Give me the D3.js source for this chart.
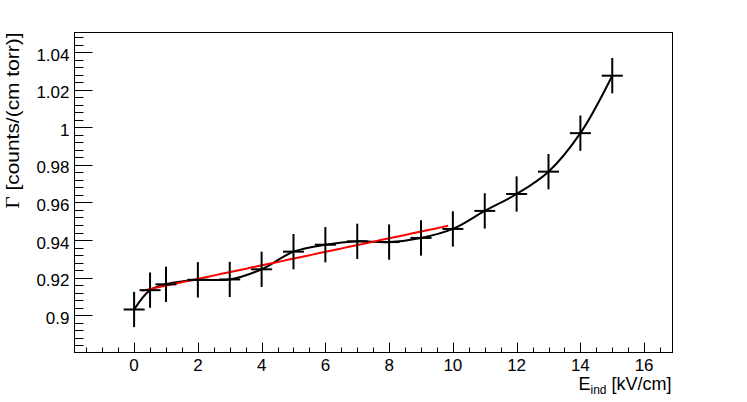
<!DOCTYPE html>
<html>
<head>
<meta charset="utf-8">
<script src="https://cdn.jsdelivr.net/npm/d3@7"></script>
<style>
  body { margin: 0; background: #fff; }
  text { font-family: "Liberation Sans", Arial, sans-serif; fill: #000; }
</style>
</head>
<body>
<svg id="chart" width="747" height="402"></svg>
<script>
// measured points (E_ind in kV/cm, gamma in counts/(cm torr))
var eInd = [0, 0.5, 1, 2, 3, 4, 5, 6, 7, 8, 9, 10, 11, 12, 13, 14, 15];
var gamma = [0.903, 0.9133, 0.9164, 0.9188, 0.919, 0.9244, 0.9338, 0.9375, 0.9393,
             0.9389, 0.9411, 0.9459, 0.9555, 0.9645, 0.9764, 0.9969, 1.0275];
var gammaErr = [0.0094, 0.0094, 0.0094, 0.0094, 0.0094, 0.0094, 0.0094, 0.0094, 0.0094,
                0.0094, 0.0094, 0.0094, 0.0094, 0.0094, 0.0094, 0.0094, 0.0094];
var eErr = [0.33, 0.33, 0.33, 0.33, 0.33, 0.33, 0.33, 0.33, 0.33,
            0.33, 0.33, 0.33, 0.33, 0.33, 0.33, 0.33, 0.33];

// linear fit (red)
var fitRange = [0.25, 9.85];
var fitPars = [0.9121, 0.0036]; // p0 + p1*x

var xTicks = [0, 2, 4, 6, 8, 10, 12, 14, 16];
var yTicks = [0.9, 0.92, 0.94, 0.96, 0.98, 1, 1.02, 1.04];

var svg = d3.select('#chart');
var L = 74.5, R = 672.5, T = 32.5, B = 352.5;

var x = d3.scaleLinear().domain([-1.87, 16.89]).range([L, R]);
var y = d3.scaleLinear().domain([0.8801, 1.0505]).range([B, T]);

// frame
svg.append('rect')
  .attr('x', L).attr('y', T)
  .attr('width', R - L).attr('height', B - T)
  .attr('fill', 'none').attr('stroke', '#000').attr('stroke-width', 1);

// x ticks
var xMinor = d3.range(-1.5, 16.9, 0.5).filter(function(v){ return Math.abs(v / 2 - Math.round(v / 2)) > 1e-6; });
var gx = svg.append('g').attr('stroke', '#000').attr('stroke-width', 1);
xMinor.forEach(function(v){
  var px = Math.round(x(v)) + 0.5;
  gx.append('line').attr('x1', px).attr('x2', px).attr('y1', B).attr('y2', B - 5);
});
xTicks.forEach(function(v){
  var px = Math.round(x(v)) + 0.5;
  gx.append('line').attr('x1', px).attr('x2', px).attr('y1', B).attr('y2', B - 10);
});
svg.append('g').selectAll('text').data(xTicks).join('text')
  .attr('x', function(d){ return x(d); })
  .attr('y', 370.5)
  .attr('text-anchor', 'middle')
  .style('font-size', '17px')
  .text(function(d){ return d; });

// y ticks
var yMinor = d3.range(0.884, 1.05, 0.004).filter(function(v){
  return Math.abs(v / 0.02 - Math.round(v / 0.02)) > 1e-4;
});
var gy = svg.append('g').attr('stroke', '#000').attr('stroke-width', 1);
yMinor.forEach(function(v){
  var py = Math.round(y(v)) + 0.5;
  gy.append('line').attr('x1', L).attr('x2', L + 9).attr('y1', py).attr('y2', py);
});
yTicks.forEach(function(v){
  var py = Math.round(y(v)) + 0.5;
  gy.append('line').attr('x1', L).attr('x2', L + 18).attr('y1', py).attr('y2', py);
});
svg.append('g').selectAll('text').data(yTicks).join('text')
  .attr('x', 69.5)
  .attr('y', function(d){ return y(d) + 8.5; })
  .attr('text-anchor', 'end')
  .style('font-size', '17px')
  .text(function(d){ return d3.format('~g')(d); });

// axis titles
var xt = svg.append('text')
  .attr('x', 671.5).attr('y', 390)
  .attr('text-anchor', 'end')
  .style('font-size', '18px');
xt.append('tspan').text('E');
xt.append('tspan').attr('dy', 4).style('font-size', '12px').text('ind');
xt.append('tspan').attr('dy', -4).text(' [kV/cm]');

var yt = svg.append('text')
  .attr('transform', 'translate(19,' + T + ') rotate(-90)')
  .attr('text-anchor', 'end')
  .attr('textLength', 176)
  .attr('lengthAdjust', 'spacingAndGlyphs')
  .style('font-size', '18px');
yt.append('tspan').style('font-family', '"Liberation Serif", serif').text('Γ');
yt.append('tspan').text(' [counts/(cm torr)]');

var pts = eInd.map(function(v, i){
  return { x: v, y: gamma[i], ey: gammaErr[i], ex: eErr[i] };
});

// smooth curve through points
var line = d3.line()
  .x(function(d){ return x(d.x); })
  .y(function(d){ return y(d.y); })
  .curve(d3.curveCatmullRom.alpha(0.5));
svg.append('path')
  .datum(pts)
  .attr('d', line)
  .attr('fill', 'none')
  .attr('stroke', '#000')
  .attr('stroke-width', 2);

// fit line
var fitPts = d3.range(fitRange[0], fitRange[1] + 1e-9, (fitRange[1] - fitRange[0]) / 50).map(function(v){
  return { x: v, y: fitPars[0] + fitPars[1] * v };
});
svg.append('path')
  .datum(fitPts)
  .attr('d', d3.line().x(function(d){ return x(d.x); }).y(function(d){ return y(d.y); }))
  .attr('fill', 'none')
  .attr('stroke', '#ff0000')
  .attr('stroke-width', 2);

// error bars
var eb = svg.append('g').attr('stroke', '#000').attr('stroke-width', 2);
pts.forEach(function(d){
  eb.append('line')
    .attr('x1', x(d.x)).attr('x2', x(d.x))
    .attr('y1', y(d.y - d.ey)).attr('y2', y(d.y + d.ey));
  eb.append('line')
    .attr('x1', x(d.x - d.ex)).attr('x2', x(d.x + d.ex))
    .attr('y1', y(d.y)).attr('y2', y(d.y));
});
</script>
</body>
</html>
